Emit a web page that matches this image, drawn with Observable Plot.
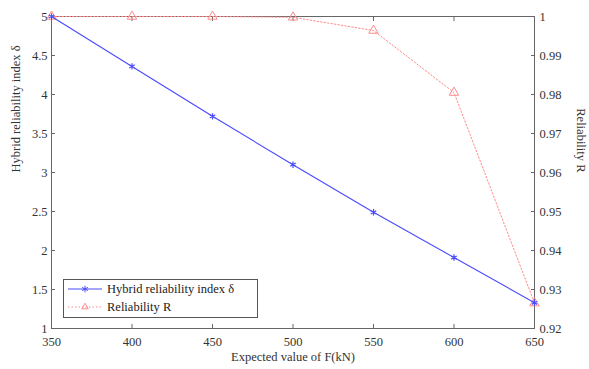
<!DOCTYPE html>
<html><head><meta charset="utf-8">
<script src="https://cdn.jsdelivr.net/npm/d3@7"></script>
<script src="https://cdn.jsdelivr.net/npm/@observablehq/plot@0.6"></script>
<style>
body{margin:0;background:#fff;font-family:"Liberation Serif","Times New Roman",Times,serif;}
#wrap{position:relative;width:589px;height:369px;}
#wrap svg text{font-family:"Liberation Serif","Times New Roman",Times,serif;}
#legend{position:absolute;left:63px;top:279px;width:193px;height:37px;border:1px solid #555;background:#fff;font-size:12.5px;color:#222;}
#legend div{height:18px;line-height:18px;display:flex;align-items:center;}
#legend svg{margin:0 3px 0 2px;}
</style></head>
<body><div id="wrap"><div id="legend"></div></div>
<script>
const force = [350, 400, 450, 500, 550, 600, 650];
const delta = [5.0, 4.36, 3.72, 3.10, 2.49, 1.91, 1.33];
const reliability = [1.0, 1.0, 1.0, 0.9998, 0.9964, 0.9805, 0.9265];
const leftTicks = [1, 1.5, 2, 2.5, 3, 3.5, 4, 4.5, 5];
const rightTicks = [0.92, 0.93, 0.94, 0.95, 0.96, 0.97, 0.98, 0.99, 1];
const xTicks = [350, 400, 450, 500, 550, 600, 650];
const blue = "#4a4aff", red = "#ff8a8a";

// map right axis (R, 0.92..1) onto left scale (1..5)
const toLeft = r => 1 + (r - 0.92) / 0.08 * 4;
const fromLeft = v => 0.92 + (v - 1) / 4 * 0.08;
const dBlue = force.map((f, i) => ({x: f, y: delta[i]}));
const dRed = force.map((f, i) => ({x: f, y: toLeft(reliability[i])}));

const chart = Plot.plot({
  width: 589, height: 369,
  marginLeft: 51, marginRight: 55, marginTop: 16, marginBottom: 41,
  style: {fontFamily: "'Liberation Serif', 'Times New Roman', serif", fontSize: "12.5px", color: "#333", background: "#fff"},
  x: {domain: [350, 650]},
  y: {domain: [1, 5]},
  marks: [
    Plot.frame({stroke: "#666"}),
    Plot.axisX({ticks: xTicks, tickSize: -4, tickPadding: 13, label: null, tickFormat: d => d, stroke: "#666"}),
    Plot.axisX({anchor: "top", ticks: xTicks, tickSize: -4, label: null, tickFormat: () => "", stroke: "#666"}),
    Plot.axisY({ticks: leftTicks, tickSize: -4, tickPadding: 8, label: null, tickFormat: d => d, stroke: "#666"}),
    Plot.axisY({anchor: "right", ticks: rightTicks.map(toLeft), tickSize: -4, tickPadding: 9, label: null,
      tickFormat: v => { const r = +fromLeft(v).toFixed(2); return r === 1 ? "1" : r.toFixed(2); }, stroke: "#666"}),
    Plot.text(["Expected value of F(kN)"], {frameAnchor: "bottom", dy: 32, fontSize: 12.5}),
    Plot.text(["Hybrid reliability index δ"], {frameAnchor: "left", dx: -36, rotate: -90, fontSize: 12.5}),
    Plot.text(["Reliability R"], {frameAnchor: "right", dx: 46, rotate: 90, fontSize: 12.5}),
    Plot.line(dRed, {x: "x", y: "y", stroke: red, strokeWidth: 1, strokeDasharray: "1.5,2"}),
    Plot.dot(dRed, {x: "x", y: "y", symbol: "triangle", stroke: red, fill: "none", r: 3.5, strokeWidth: 1}),
    Plot.line(dBlue, {x: "x", y: "y", stroke: blue, strokeWidth: 1.1}),
    Plot.dot(dBlue, {x: "x", y: "y", symbol: "asterisk", stroke: blue, r: 3, strokeWidth: 1.2})
  ]
});
document.getElementById("wrap").prepend(chart);

const legendItems = [
  {label: "Hybrid reliability index δ", color: blue, dash: null, sym: "asterisk"},
  {label: "Reliability R", color: red, dash: "1.5,2", sym: "triangle"}
];
const lg = document.getElementById("legend");
for (const it of legendItems) {
  const row = document.createElement("div");
  const s = d3.create("svg").attr("width", 38).attr("height", 12);
  s.append("line").attr("x1", 2).attr("x2", 36).attr("y1", 6).attr("y2", 6)
    .attr("stroke", it.color).attr("stroke-dasharray", it.dash);
  s.append("path").attr("transform", "translate(19,6)")
    .attr("d", d3.symbol(it.sym === "asterisk" ? d3.symbolAsterisk : d3.symbolTriangle2, 30)())
    .attr("stroke", it.color).attr("fill", "none");
  row.append(s.node());
  const t = document.createElement("span"); t.textContent = it.label;
  row.append(t);
  lg.append(row);
}
</script></body></html>
